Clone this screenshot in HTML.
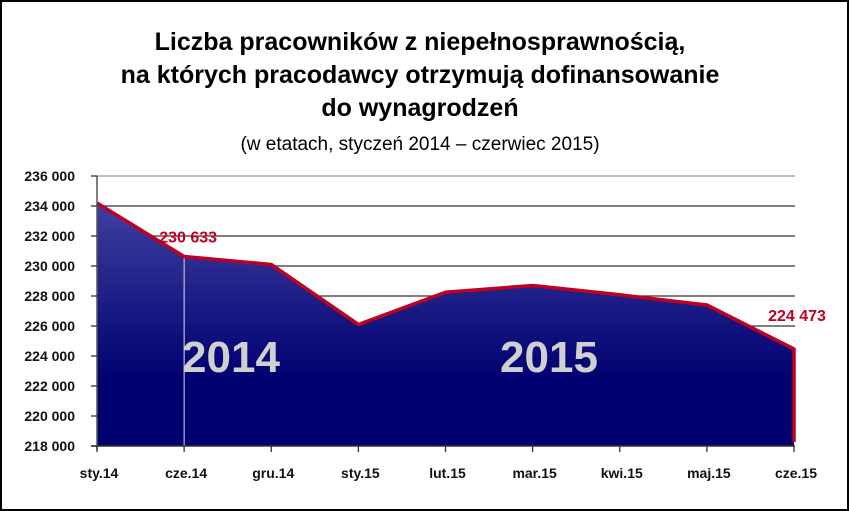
<!DOCTYPE html>
<html><head><meta charset="utf-8"><style>
html,body{margin:0;padding:0;background:#fff}
svg{display:block}
text{font-family:"Liberation Sans Narrow","Liberation Sans",sans-serif}
</style></head><body>
<svg id="chart" width="849" height="511" viewBox="0 0 849 511" xmlns="http://www.w3.org/2000/svg">
<defs>
<linearGradient id="fillGrad" x1="0" y1="176" x2="0" y2="446" gradientUnits="userSpaceOnUse">
<stop offset="0" stop-color="#4a4aa8"/>
<stop offset="0.75" stop-color="#000070"/>
<stop offset="1" stop-color="#000070"/>
</linearGradient>
</defs>
<rect x="1" y="1" width="847" height="509" fill="#fff" stroke="#000" stroke-width="2"/>
<g>
<text x="420" y="50" text-anchor="middle" font-size="25" font-weight="bold" fill="#000">Liczba pracowników z niepełnosprawnością,</text>
<text x="420" y="83" text-anchor="middle" font-size="25" font-weight="bold" fill="#000">na których pracodawcy otrzymują dofinansowanie</text>
<text x="420" y="116" text-anchor="middle" font-size="25" font-weight="bold" fill="#000">do wynagrodzeń</text>
</g>
<text x="420" y="150" text-anchor="middle" font-size="19" fill="#000">(w etatach, styczeń 2014 – czerwiec 2015)</text>
<g id="grid"></g>
<g id="area"></g>
<g id="axes"></g>
<g id="labels"></g>
</svg>
<script>
const categories = ["sty.14","cze.14","gru.14","sty.15","lut.15","mar.15","kwi.15","maj.15","cze.15"];
const values = [234200, 230633, 230100, 226100, 228250, 228700, 228080, 227400, 224473];
const yTicks = [218000,220000,222000,224000,226000,228000,230000,232000,234000,236000];
const printedLabels = ["230 633","224 473"];
const yearLabels = ["2014","2015"];

const NS="http://www.w3.org/2000/svg";
const X0=97, X1=794, Y0=446, Y1=176, YMIN=218000, YMAX=236000;
const xPos=i=>X0+i*(X1-X0)/(categories.length-1);
const yPos=v=>Y0-(v-YMIN)/(YMAX-YMIN)*(Y0-Y1);
function mk(tag,attrs,parent){const e=document.createElementNS(NS,tag);for(const k in attrs)e.setAttribute(k,attrs[k]);parent.appendChild(e);return e;}
const fmt=v=>String(v).replace(/\B(?=(\d{3})+(?!\d))/g," ");

const grid=document.getElementById('grid');
yTicks.forEach(t=>{
  if(t===YMIN)return;
  const l=mk('line',{x1:X0,x2:X1+1,y1:yPos(t),y2:yPos(t),stroke:t===YMAX?'#999':'#333','stroke-width':1.3},grid);
  
  
});

const area=document.getElementById('area');
let d=`M${xPos(0)},${Y0}`;
values.forEach((v,i)=>{d+=` L${xPos(i)},${yPos(v)}`;});
d+=` L${xPos(values.length-1)},${Y0} Z`;
const poly=mk('path',{d:d,fill:'url(#fillGrad)'},area);


const sep=mk('line',{x1:xPos(1),x2:xPos(1),y1:yPos(values[1])+2,y2:Y0,stroke:'#ddd','stroke-width':1},area);


let ld='';
values.forEach((v,i)=>{ld+=(i?' L':'M')+xPos(i)+','+yPos(v);});
ld+=` L${xPos(values.length-1)},${Y0-4}`;
const line=mk('path',{d:ld,fill:'none',stroke:'#c00020','stroke-width':3.5,'stroke-linejoin':'round'},area);



const axes=document.getElementById('axes');
const ya=mk('line',{x1:X0,x2:X0,y1:Y1,y2:Y0+4,stroke:'#555','stroke-width':1.5},axes);


const xa=mk('line',{x1:X0-6,x2:X1+1,y1:Y0,y2:Y0,stroke:'#333','stroke-width':1.5},axes);


yTicks.forEach(t=>{
  const tk=mk('line',{x1:X0-6,x2:X0,y1:yPos(t),y2:yPos(t),stroke:'#333','stroke-width':1.3},axes);
  
  
  const tx=mk('text',{x:75,y:yPos(t)+5,'text-anchor':'end','font-size':14,'font-weight':'bold',fill:'#111'},axes);
  tx.textContent=fmt(t);
  
  
});
categories.forEach((c,i)=>{
  const tk=mk('line',{x1:xPos(i),x2:xPos(i),y1:Y0,y2:Y0+6,stroke:'#333','stroke-width':1.3},axes);
  
  
  const tx=mk('text',{x:xPos(i)+2,y:Y0+32,'text-anchor':'middle','font-size':14,'font-weight':'bold',fill:'#111'},axes);
  tx.textContent=c;
  
  
});

const labels=document.getElementById('labels');
const l1=mk('text',{x:xPos(1)+4,y:yPos(values[1])-14,'text-anchor':'middle','font-size':16,'font-weight':'bold',fill:'#c00020'},labels);
l1.textContent=printedLabels[0];


const l2=mk('text',{x:xPos(8)+3,y:yPos(values[8])-28,'text-anchor':'middle','font-size':16,'font-weight':'bold',fill:'#c00020'},labels);
l2.textContent=printedLabels[1];


const y1=mk('text',{x:231,y:372,'text-anchor':'middle','font-size':44,'font-weight':'bold',fill:'#d0d0d0'},labels);
y1.textContent=yearLabels[0];


const y2=mk('text',{x:549,y:372,'text-anchor':'middle','font-size':44,'font-weight':'bold',fill:'#d0d0d0'},labels);
y2.textContent=yearLabels[1];


</script>
</body></html>
